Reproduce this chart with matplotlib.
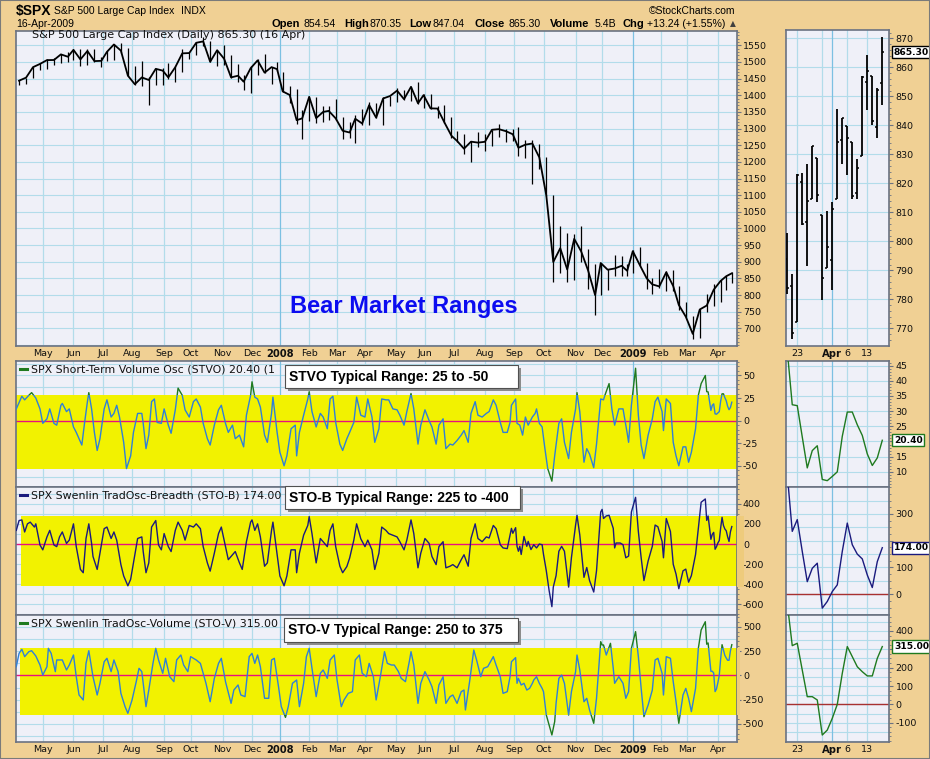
import matplotlib
matplotlib.use("Agg")
import matplotlib.pyplot as plt
import numpy as np
import pandas as pd
from matplotlib.patches import Rectangle
from matplotlib.lines import Line2D

plt.rcParams["axes.unicode_minus"] = False

W, H = 930, 759

# trading calendar (NYSE holidays in range)
holidays = ["2007-04-06", "2007-05-28", "2007-07-04", "2007-09-03", "2007-11-22",
            "2007-12-25", "2008-01-01", "2008-01-21", "2008-02-18", "2008-03-21",
            "2008-05-26", "2008-07-04", "2008-09-01", "2008-11-27", "2008-12-25",
            "2009-01-01", "2009-01-19", "2009-02-16", "2009-04-10"]

# weekly S&P 500 bars, week ending Fridays from 2007-04-06 to 2009-04-17
week_close = [1443.8, 1452.9, 1484.4, 1494.1, 1505.6, 1505.9, 1522.8, 1515.7, 1536.3, 1507.7,
              1532.9, 1502.6, 1503.4, 1530.4, 1552.5, 1534.1, 1458.9, 1433.1, 1453.6, 1445.9,
              1479.4, 1474.0, 1453.6, 1484.3, 1525.8, 1526.8, 1557.6, 1561.8, 1500.6, 1535.3,
              1509.7, 1453.7, 1458.7, 1440.7, 1481.1, 1504.7, 1468.0, 1484.5, 1478.5, 1411.6,
              1401.0, 1325.2, 1330.6, 1395.4, 1331.3, 1350.0, 1353.1, 1330.6, 1293.4, 1288.1,
              1329.5, 1315.2, 1370.4, 1332.8, 1390.3, 1397.8, 1413.9, 1388.3, 1425.4, 1375.9,
              1400.4, 1360.7, 1360.0, 1317.9, 1278.4, 1262.9, 1239.5, 1260.7, 1257.8, 1260.3,
              1296.3, 1298.2, 1292.2, 1282.8, 1242.3, 1251.7, 1255.1, 1213.3, 1099.2, 899.2,
              940.6, 876.8, 968.8, 931.0, 873.3, 800.0, 896.2, 876.1, 879.7, 887.9,
              872.8, 931.8, 890.4, 850.1, 832.0, 825.9, 868.6, 826.8, 770.1, 735.1,
              683.4, 756.6, 768.5, 815.9, 842.5, 856.6, 865.3]
week_high = [1445, 1453, 1485, 1497, 1510, 1513, 1523, 1529, 1540, 1540,
             1538, 1540, 1514, 1532, 1555, 1556, 1541, 1488, 1503, 1456,
             1479, 1481, 1496, 1487, 1538, 1530, 1561, 1576, 1564, 1535,
             1552, 1520, 1493, 1462, 1488, 1508, 1523, 1484, 1499, 1471,
             1429, 1419, 1355, 1396, 1396, 1368, 1367, 1388, 1335, 1321,
             1341, 1359, 1380, 1378, 1395, 1398, 1422, 1415, 1426, 1440,
             1405, 1404, 1368, 1370, 1335, 1292, 1285, 1262, 1291, 1284,
             1297, 1313, 1300, 1300, 1304, 1266, 1265, 1255, 1215, 1100,
             1006, 985, 984, 1007, 938, 894, 897, 878, 919, 918,
             892, 934, 943, 896, 852, 877, 871, 876, 827, 780,
             736, 759, 804, 833, 846, 857, 870]
week_low = [1431, 1433, 1452, 1476, 1480, 1490, 1498, 1500, 1505, 1487,
            1490, 1500, 1484, 1503, 1506, 1527, 1458, 1432, 1429, 1370,
            1430, 1432, 1449, 1439, 1470, 1510, 1521, 1547, 1500, 1489,
            1492, 1453, 1439, 1415, 1406, 1460, 1467, 1435, 1473, 1411,
            1376, 1313, 1270, 1322, 1316, 1320, 1325, 1327, 1270, 1273,
            1257, 1312, 1311, 1331, 1312, 1368, 1379, 1385, 1384, 1373,
            1362, 1360, 1331, 1316, 1272, 1260, 1225, 1200, 1245, 1234,
            1247, 1274, 1261, 1262, 1217, 1212, 1133, 1178, 1097, 840,
            866, 840, 845, 900, 818, 741, 800, 815, 856, 857,
            857, 866, 888, 818, 804, 820, 812, 812, 754, 734,
            667, 672, 749, 768, 779, 814, 835]

# last 20 sessions (2009-03-19 .. 2009-04-16), daily OHLC
mini_open = [794.0, 784.6, 772.3, 820.6, 806.8, 814.5, 828.7, 809.1, 790.9, 793.6,
             814.5, 835.1, 839.8, 834.1, 816.8, 829.3, 855.0, 856.9, 839.4, 854.5]
mini_high = [803.0, 788.9, 823.4, 823.7, 826.8, 833.0, 828.7, 809.1, 810.5, 813.6,
             845.6, 842.5, 839.8, 834.1, 828.4, 856.9, 864.3, 856.9, 852.9, 870.4]
mini_low = [781.8, 766.2, 772.3, 805.5, 791.4, 814.5, 813.4, 779.8, 790.9, 783.3,
            814.5, 826.7, 822.8, 814.5, 814.5, 829.3, 845.4, 840.1, 835.6, 847.0]
mini_close = [784.0, 768.5, 822.9, 806.1, 813.9, 832.9, 815.9, 787.5, 797.9, 811.1,
              834.4, 842.5, 835.5, 815.6, 825.2, 856.6, 858.7, 841.5, 852.1, 865.3]
mini_stvo = [50, 32.1, 31.8, 21.5, 11.3, 17, 18.6, 7.5, 7.1, 8.5,
             10, 21.7, 29.7, 29.7, 25.5, 22, 15.9, 12.1, 14.6, 20.4]
mini_stob = [449, 235, 279, 160, 47, 97, 116, -52, -27, 10,
             35, 160, 266, 185, 150, 132, 72, 25, 122, 174]
mini_stov = [551, 320, 333, 187, 42, 42, 24, -167, -140, -76,
             0, 169, 315, 260, 205, 178, 155, 155, 251, 315]
mini_ticks = ["2009-03-23", "2009-03-30", "2009-04-01", "2009-04-06", "2009-04-13"]
mini_tick_labels = ["23", "", "Apr", "6", "13"]

# oscillator turning points: (trading-day index from 2007-04-03, value)
stvo_pts = [(0, 13), (4, 27), (6, 23), (9, 28), (11, 31), (14, 25), (17, 13), (19, -3), (22, 2),
            (24, 13), (27, -3), (29, -5), (32, 17), (33, 19), (36, 10), (38, 13), (41, -7),
            (43, -13), (47, -27), (49, -2), (51, 21), (52, 31), (54, 13), (56, -13), (58, -33),
            (60, -20), (63, 13), (65, 23), (68, 4), (70, 8), (72, 17), (74, 4), (77, -24),
            (79, -53), (82, -39), (84, -13), (87, 8), (90, 8), (91, -3), (93, -31), (95, -16),
            (97, 21), (99, 24), (101, -2), (104, -3), (106, 13), (109, -5), (111, -14),
            (114, 12), (116, 36), (119, 28), (121, 12), (124, 4), (127, 21), (129, 24),
            (132, 15), (134, -3), (137, -20), (139, -27), (142, -5), (145, 12), (147, 17),
            (150, -3), (152, -13), (155, -5), (157, -20), (160, -16), (163, -29), (165, 6),
            (168, 28), (169, 43), (171, 26), (173, 24), (175, 15), (178, -16), (180, -24),
            (183, 8), (184, 26), (187, -13), (189, -35), (192, -50), (194, -39), (197, -9),
            (200, -5), (201, -39), (203, -13), (206, 6), (209, 24), (210, 32), (212, 10),
            (215, -7), (218, 8), (220, 4), (223, -9), (225, 24), (227, 27), (229, -2),
            (232, -26), (234, -33), (237, -20), (239, -13), (242, -2), (244, 26), (247, 6),
            (250, 4), (252, 24), (255, 4), (257, -24), (260, -9), (262, 24), (265, 23),
            (267, 23), (270, 13), (273, 12), (275, 6), (278, -5), (280, 10), (283, 30),
            (285, 13), (288, -26), (290, -5), (293, 12), (296, 0), (298, -7), (301, -26),
            (303, -5), (306, 2), (308, -31), (311, -26), (313, -27), (316, -22), (319, -16),
            (321, -11), (324, -24), (326, 8), (329, 21), (331, 6), (334, 4), (337, 8),
            (339, 10), (342, 23), (344, 17), (347, -2), (349, -13), (352, -13), (354, -2),
            (355, 17), (358, 24), (359, -3), (361, -5), (363, -16), (365, 4), (367, -5),
            (370, 4), (372, 8), (373, 13), (375, -3), (377, -7), (379, -31), (381, -53),
            (384, -67), (386, -39), (389, -3), (391, 2), (393, -24), (396, -42), (398, -13),
            (401, 13), (402, 31), (404, 10), (407, -46), (409, -31), (411, -37), (414, -52),
            (416, -26), (419, 24), (421, 23), (422, 28), (425, 41), (427, 13), (429, -5),
            (432, 13), (435, 13), (438, -14), (439, -24), (441, 17), (444, 58), (446, 6),
            (448, -27), (450, -42), (453, -16), (456, 2), (458, 21), (460, 26), (463, 10),
            (464, -11), (466, 24), (469, 19), (471, -24), (473, -39), (475, -50), (478, -29),
            (480, -29), (482, -46), (484, -35), (487, -9), (489, 28), (491, 41)]

stob_pts = [(0, 136), (2, 234), (4, 240), (6, 120), (8, 201), (10, 218), (13, 169), (14, 201),
            (17, -10), (19, -58), (22, 71), (24, 136), (27, -10), (29, -26), (31, 71), (33, 120),
            (36, 6), (38, 39), (41, 201), (43, -26), (46, -253), (48, -286), (50, 55), (52, 201),
            (54, 6), (55, -124), (58, -253), (60, -91), (63, 153), (65, 169), (68, 55), (70, 120),
            (72, 39), (75, -205), (77, -318), (80, -416), (82, -351), (84, -188), (87, 55),
            (90, 71), (91, -75), (93, -286), (95, -188), (97, 169), (100, 234), (102, -10),
            (104, -58), (106, 104), (109, -26), (111, -75), (114, 136), (116, 218), (119, 136),
            (121, 39), (124, 185), (127, 169), (129, 201), (132, 153), (134, -26), (137, -188),
            (139, -270), (142, -91), (145, 104), (147, 169), (150, -26), (152, -156), (155, -107),
            (157, -75), (160, -188), (162, -253), (165, 23), (168, 218), (169, 240), (171, 136),
            (173, 201), (175, 71), (178, -221), (180, -188), (183, 136), (184, 218), (187, -107),
            (189, -318), (192, -416), (194, -318), (197, -58), (200, -58), (201, -286), (203, -91),
            (206, 88), (209, 185), (210, 273), (212, 104), (215, -188), (218, 55), (220, 23),
            (223, -26), (225, 136), (227, 201), (229, -26), (232, -221), (234, -286), (237, -224),
            (239, -140), (242, 39), (244, 201), (247, 52), (250, -26), (252, 39), (255, -58),
            (257, -253), (260, -91), (262, 169), (265, 136), (267, 104), (270, 88), (273, 71),
            (275, 23), (278, -58), (280, 39), (283, 240), (285, 104), (288, -237), (290, -91),
            (293, 55), (296, 6), (298, -124), (301, -205), (303, -26), (306, 23), (308, -237),
            (311, -221), (313, -205), (316, -237), (319, -156), (321, -107), (324, -221),
            (326, 55), (329, 201), (331, 55), (334, 23), (337, 71), (339, 60), (342, 185),
            (344, 153), (347, -7), (349, -39), (352, -46), (354, 91), (355, 156), (356, 107),
            (358, 163), (359, -23), (360, -72), (361, -23), (362, -104), (364, 75), (366, -23),
            (367, 26), (369, -55), (371, -7), (373, -39), (375, 0), (377, -7), (378, -104),
            (380, -267), (382, -462), (384, -624), (385, -429), (387, -315), (389, -72),
            (391, -23), (393, -72), (396, -429), (398, -137), (401, 189), (402, 286), (404, 91),
            (407, -332), (409, -234), (411, -364), (414, -478), (416, -267), (419, 319),
            (420, 345), (421, 254), (423, 280), (425, 286), (428, 156), (429, -39), (430, 10),
            (433, 10), (435, -7), (437, -137), (439, -120), (441, 319), (444, 465), (446, 124),
            (448, -137), (450, -364), (453, -169), (456, -23), (458, 189), (460, 172), (463, 26),
            (464, -137), (466, 254), (469, 124), (471, -202), (473, -299), (475, -445),
            (478, -267), (480, -250), (482, -380), (484, -315), (487, -104), (489, 156), (491, 416)]

stov_pts = [(0, 89), (2, 226), (4, 267), (6, 192), (9, 243), (11, 253), (14, 199), (17, 106),
            (19, 3), (22, 89), (23, 277), (25, 226), (28, 38), (29, 158), (33, 158), (36, 55),
            (38, 106), (41, 209), (43, -14), (45, -202), (48, -253), (50, 123), (52, 253),
            (55, -14), (58, -202), (60, -82), (63, 140), (65, 175), (68, 38), (70, 158), (73, 38),
            (75, -185), (78, -322), (80, -390), (83, -253), (86, -65), (88, 72), (90, 38),
            (93, -322), (95, -151), (98, 123), (100, 277), (102, 158), (105, 21), (107, 175),
            (110, -14), (113, -65), (115, 158), (118, 209), (120, 106), (123, 38), (125, 192),
            (129, 158), (132, 123), (136, -82), (139, -271), (142, -31), (145, 123), (147, 175),
            (150, -65), (154, -288), (156, -151), (159, -99), (161, -202), (164, -219), (167, 192),
            (169, 226), (171, 123), (173, 209), (175, 89), (178, -236), (181, -236), (183, 158),
            (185, 175), (188, -116), (190, -322), (193, -432), (195, -322), (198, -82), (201, -48),
            (203, -322), (206, -82), (208, 192), (210, 277), (212, 72), (215, -219), (218, 21),
            (220, 55), (223, -31), (225, 158), (228, 209), (230, -48), (233, -322), (235, -253),
            (238, -185), (241, -168), (243, 158), (246, 209), (248, 21), (251, -14), (253, 123),
            (256, -14), (258, -253), (261, -14), (264, 243), (266, 123), (269, 106), (271, 106),
            (274, 38), (276, -31), (279, -65), (282, 158), (283, 243), (285, 106), (288, -288),
            (290, -82), (293, 38), (296, -48), (298, -116), (301, -288), (303, -99), (306, -14),
            (308, -288), (311, -219), (313, -202), (316, -288), (319, -168), (321, -151),
            (322, -356), (325, -65), (328, 260), (330, 158), (333, -14), (335, 72), (338, 89),
            (342, 192), (344, 106), (347, -14), (349, -185), (352, -168), (354, -14), (355, 140),
            (358, 182), (359, -82), (360, -31), (362, -99), (364, -82), (366, -151), (368, -134),
            (370, -82), (371, -48), (373, -14), (375, -82), (377, -134), (378, -168), (380, -408),
            (382, -510), (384, -613), (386, -476), (387, -288), (389, -31), (391, 3), (393, -82),
            (396, -408), (398, -168), (401, 38), (402, 209), (404, 55), (407, -271), (409, -236),
            (411, -356), (414, -493), (416, -236), (419, 346), (420, 312), (421, 312), (423, 209),
            (426, 329), (428, 72), (429, -82), (432, -14), (435, -82), (437, -236), (439, -168),
            (441, 277), (444, 449), (446, 192), (448, -134), (450, -425), (453, -305), (456, -151),
            (458, 158), (460, 175), (463, 21), (464, -202), (466, 192), (469, 175), (471, -65),
            (473, -271), (475, -493), (478, -202), (480, -134), (482, -236), (484, -373),
            (487, -134), (489, 277), (491, 466)]

BG = "#f0d094"
FACE = "#eff0f8"
GRID = "#b2dcea"
GRID_YR = "#7cc0e2"
SPINE = "#6a7282"
YELLOW = "#f2f200"
BLUE = "#2f80d8"
GREEN = "#1f7a1f"
NAVY = "#1a1a7e"
ZERO = "#e8107f"
DARKRED = "#a83030"


def px(l, t, r, b):
    return [l / W, 1 - b / H, (r - l) / W, (b - t) / H]


def fpt(x, y):
    return x / W, 1 - y / H


days = pd.bdate_range("2007-04-03", "2009-04-16", freq="C", holidays=holidays)
n = len(days)
month_pos = [i for i in range(1, n) if days[i].month != days[i - 1].month]
month_lab = [str(days[i].year) if days[i].month == 1 else days[i].strftime("%b") for i in month_pos]
year_pos = [p for p, lab in zip(month_pos, month_lab) if lab.isdigit()]

week_end = pd.date_range("2007-04-06", periods=len(week_close), freq="W-FRI")
week_x = days.searchsorted(week_end, side="right") - 1

tail_x = np.arange(n - len(mini_stvo), n)
mini_days = days[n - len(mini_stvo):]
mini_x = np.arange(len(mini_stvo))
mini_tick_x = [mini_days.get_loc(pd.Timestamp(d)) for d in mini_ticks]


def series(pts, tail):
    d, v = np.array(pts, dtype=float).T
    return np.concatenate([d, tail_x]), np.concatenate([v, tail])


fig = plt.figure(figsize=(W / 100, H / 100), dpi=100, facecolor=BG)

XL = (-0.2, 516.5)
MXL = (-0.35, 20.4)

ax_p = fig.add_axes(px(16, 31, 736.7, 346))
ax_1 = fig.add_axes(px(16, 361, 736.7, 487.5))
ax_2 = fig.add_axes(px(16, 487.5, 736.7, 615))
ax_3 = fig.add_axes(px(16, 615, 736.7, 742))
mx_p = fig.add_axes(px(785.5, 30, 889.3, 346))
mx_1 = fig.add_axes(px(785.5, 361, 889.3, 487.5))
mx_2 = fig.add_axes(px(785.5, 487.5, 889.3, 615))
mx_3 = fig.add_axes(px(785.5, 615, 889.3, 742))


def panel(ax, xlim, ylim, yticks, yminor, ygrid, xgrid, dark=(), labels=None):
    ax.set_facecolor(FACE)
    ax.set_xlim(xlim)
    ax.set_ylim(ylim)
    ax.set_yticks(yticks)
    if labels is not None:
        ax.set_yticklabels(labels)
    ax.set_yticks(yminor, minor=True)
    ax.yaxis.tick_right()
    ax.tick_params(axis="y", which="major", direction="out", length=3, width=0.8,
                   color=SPINE, labelsize=6.8, pad=1.5, labelcolor="#111111")
    ax.tick_params(axis="y", which="minor", direction="out", length=1.6, width=0.6, color=SPINE)
    ax.tick_params(axis="x", which="both", length=0, labelsize=6.8, pad=2.5,
                   labelcolor="#111111")
    for v in ygrid:
        ax.axhline(v, color=GRID, lw=0.8, zorder=1.2)
    for v in xgrid:
        ax.axvline(v, color=GRID_YR if v in dark else GRID, lw=0.9, zorder=1.2)
    for s in ax.spines.values():
        s.set_color(SPINE)
        s.set_linewidth(1.2)
    ax.set_xticks([])


def month_labels(ax, pos, labels, bold_labels):
    ax.set_xticks(pos)
    ax.set_xticklabels(labels)
    for t in ax.get_xticklabels():
        if t.get_text() in bold_labels:
            t.set_fontweight("bold")
            t.set_fontsize(7.2)


# ---- main price panel
panel(ax_p, XL, (647, 1593), np.arange(700, 1551, 50), np.arange(650, 1591, 10),
      np.arange(650, 1591, 50), month_pos, year_pos)
ax_p.vlines(week_x, week_low, week_high, color="black", lw=0.9, zorder=3)
ax_p.plot(week_x, week_close, color="black", lw=1.3, zorder=3)
month_labels(ax_p, month_pos, month_lab, ["2008", "2009"])

# ---- oscillators


def two_tone(ax, x, y, lo, hi, c_in, c_out, lw=1.0):
    x0, x1 = ax.get_xlim()
    y0, y1 = ax.get_ylim()
    zones = [(lo, hi, c_in), (hi, y1, c_out), (y0, lo, c_out)]
    for a, b, c in zones:
        line, = ax.plot(x, y, color=c, lw=lw, zorder=3)
        line.set_clip_path(Rectangle((x0, a), x1 - x0, b - a, transform=ax.transData))


def band(ax, x0, lo, hi):
    ax.add_patch(Rectangle((x0, lo), ax.get_xlim()[1] - x0, hi - lo, color=YELLOW,
                           zorder=1.6, lw=0))


stvo_x, stvo_y = series(stvo_pts, mini_stvo)
stob_x, stob_y = series(stob_pts, mini_stob)
stov_x, stov_y = series(stov_pts, mini_stov)

panel(ax_1, XL, (-74, 66), [-50, -25, 0, 25, 50], np.arange(-70, 66, 5),
      np.arange(-62.5, 63, 12.5), month_pos, year_pos)
band(ax_1, XL[0], -54, 28)
ax_1.axhline(0, color=ZERO, lw=1.0, zorder=2.5)
two_tone(ax_1, stvo_x, stvo_y, -54, 28, BLUE, GREEN)

panel(ax_2, XL, (-707, 563), np.arange(-600, 401, 200), np.arange(-700, 563, 50),
      np.arange(-700, 563, 100), month_pos, year_pos)
band(ax_2, 3.4, -417, 283)
ax_2.axhline(0, color=ZERO, lw=1.0, zorder=2.5)
ax_2.plot(stob_x, stob_y, color=NAVY, lw=1.0, zorder=3)

panel(ax_3, XL, (-685, 620), [-500, -250, 0, 250, 500], np.arange(-650, 620, 50),
      np.arange(-625, 620, 125), month_pos, year_pos)
band(ax_3, 2.9, -408, 277)
ax_3.axhline(0, color=ZERO, lw=1.0, zorder=2.5)
two_tone(ax_3, stov_x, stov_y, -408, 277, BLUE, GREEN)
month_labels(ax_3, month_pos, month_lab, ["2008", "2009"])

# ---- mini panels (last 20 sessions)
mini_grid = mini_tick_x
apr = [mini_tick_x[2]]
panel(mx_p, MXL, (763.9, 872.9), np.arange(770, 871, 10), np.arange(766, 873, 2),
      np.arange(770, 871, 10), mini_grid, apr)
mx_p.vlines(mini_x, mini_low, mini_high, color="black", lw=1.3, zorder=3)
mx_p.hlines(mini_open, mini_x - 0.38, mini_x, color="black", lw=1.1, zorder=3)
mx_p.hlines(mini_close, mini_x, mini_x + 0.38, color="black", lw=1.1, zorder=3)
month_labels(mx_p, mini_tick_x, mini_tick_labels, ["Apr"])

# the last-value tags hide the tick label under them, as on the original
panel(mx_1, MXL, (4.85, 46.5), np.arange(10, 46, 5), np.arange(5, 47, 1),
      np.arange(5, 47, 5), mini_grid, apr,
      labels=["10", "15", "", "25", "30", "35", "40", "45"])
mx_1.plot(mini_x, mini_stvo, color=GREEN, lw=1.0, zorder=3)

panel(mx_2, MXL, (-77.6, 399), [0, 100, 200, 300], np.arange(-50, 399, 25),
      np.arange(-50, 399, 50), mini_grid, apr, labels=["0", "100", "", "300"])
mx_2.axhline(0, color=DARKRED, lw=1.0, zorder=2.5)
mx_2.plot(mini_x, mini_stob, color=NAVY, lw=1.0, zorder=3)

panel(mx_3, MXL, (-205, 487), np.arange(-100, 401, 100), np.arange(-200, 487, 25),
      np.arange(-200, 487, 50), mini_grid, apr,
      labels=["-100", "0", "100", "200", "", "400"])
mx_3.axhline(0, color=DARKRED, lw=1.0, zorder=2.5)
mx_3.plot(mini_x, mini_stov, color=GREEN, lw=1.0, zorder=3)
month_labels(mx_3, mini_tick_x, mini_tick_labels, ["Apr"])


def tag(ax, y, text, ec):
    ax.text(1.045, y, text, transform=ax.get_yaxis_transform(), ha="left", va="center",
            fontsize=6.6, fontweight="bold", color="black", clip_on=False, zorder=6,
            bbox=dict(boxstyle="square,pad=0.18", fc="white", ec=ec, lw=1.0))


tag(mx_p, mini_close[-1], f"{mini_close[-1]:.2f}", "black")
tag(mx_1, mini_stvo[-1], f"{mini_stvo[-1]:.2f}", GREEN)
tag(mx_2, mini_stob[-1], f"{mini_stob[-1]:.2f}", NAVY)
tag(mx_3, mini_stov[-1], f"{mini_stov[-1]:.2f}", GREEN)

# band overhang right of the main panels
for l, t, r, b in [(736.7, 516, 744, 586.7), (736.7, 648, 740, 715)]:
    fig.add_artist(Rectangle(fpt(l, b), (r - l) / W, (b - t) / H, transform=fig.transFigure,
                             color="#eecb7c", lw=0, zorder=0.5))

# ---- panel titles
fig.text(*fpt(31.7, 35.5), "S&P 500 Large Cap Index (Daily) 865.30 (16 Apr)",
         fontsize=8, va="center", color="#111111")
titles = [(369, GREEN, "SPX Short-Term Volume Osc (STVO) 20.40 (1"),
          (495, NAVY, "SPX Swenlin TradOsc-Breadth (STO-B) 174.00"),
          (623, GREEN, "SPX Swenlin TradOsc-Volume (STO-V) 315.00")]
for y, c, s in titles:
    x0, y0 = fpt(19.6, y)
    x1, _ = fpt(26.8, y)
    fig.add_artist(Line2D([x0, x1], [y0, y0], color=c, lw=2.2, transform=fig.transFigure))
    fig.text(*fpt(31.4, y), s, fontsize=7.9, va="center", color="#111111")

# ---- typical range boxes
boxes = [(284.6, 365, 517.9, 388.3, "STVO Typical Range: 25 to -50"),
         (284.6, 486, 519.6, 509.3, "STO-B Typical Range: 225 to -400"),
         (284.0, 618.3, 518.0, 641.7, "STO-V Typical Range: 250 to 375")]
for l, t, r, b, s in boxes:
    fig.add_artist(Rectangle(fpt(l + 3, b + 3), (r - l) / W, (b - t) / H,
                             transform=fig.transFigure, color="#8c8c8c", lw=0, zorder=4))
    fig.add_artist(Rectangle(fpt(l, b), (r - l) / W, (b - t) / H, transform=fig.transFigure,
                             fc="white", ec="#505050", lw=0.8, zorder=4.5))
    fig.text(*fpt(l + 4, (t + b) / 2), s, fontsize=10, fontweight="bold",
             family="Liberation Sans", va="center", color="black", zorder=5)

fig.text(*fpt(290, 306.5), "Bear Market Ranges", fontsize=17, fontweight="bold",
         family="Liberation Sans", color="#0c0cf0", va="center", zorder=5)

# ---- header
fig.text(*fpt(16, 10.5), "$SPX", fontsize=10, fontweight="bold", family="Liberation Sans",
         va="center")
fig.text(*fpt(54, 10.5), "S&P 500 Large Cap Index", fontsize=7.5, family="Liberation Sans",
         va="center")
fig.text(*fpt(181, 10.5), "INDX", fontsize=7.5, family="Liberation Sans", va="center")
fig.text(*fpt(735.5, 10.5), "©StockCharts.com", fontsize=7.5, family="Liberation Sans",
         va="center", ha="right")
fig.text(*fpt(16.6, 24), "16-Apr-2009", fontsize=7.5, family="Liberation Sans", va="center")
quote = [(271.6, "Open", True), (303.7, "854.54", False), (344, "High", True),
         (369, "870.35", False), (409, "Low", True), (432, "847.04", False),
         (474.5, "Close", True), (508.3, "865.30", False), (550.4, "Volume", True),
         (594.3, "5.4B", False), (622.8, "Chg", True), (646.5, "+13.24 (+1.55%)", False)]
for x, s, b in quote:
    fig.text(*fpt(x, 24), s, fontsize=8 if b else 7.6, fontweight="bold" if b else "normal",
             family="Liberation Sans", va="center")
fig.text(*fpt(729.5, 24), "▲", fontsize=5.5, va="center", color="#404040")

fig.add_artist(Rectangle((0, 0), 1, 1, transform=fig.transFigure, fill=False,
                         ec="#7a7a7a", lw=1.5))

fig.savefig("out.png", dpi=100, facecolor=BG)
